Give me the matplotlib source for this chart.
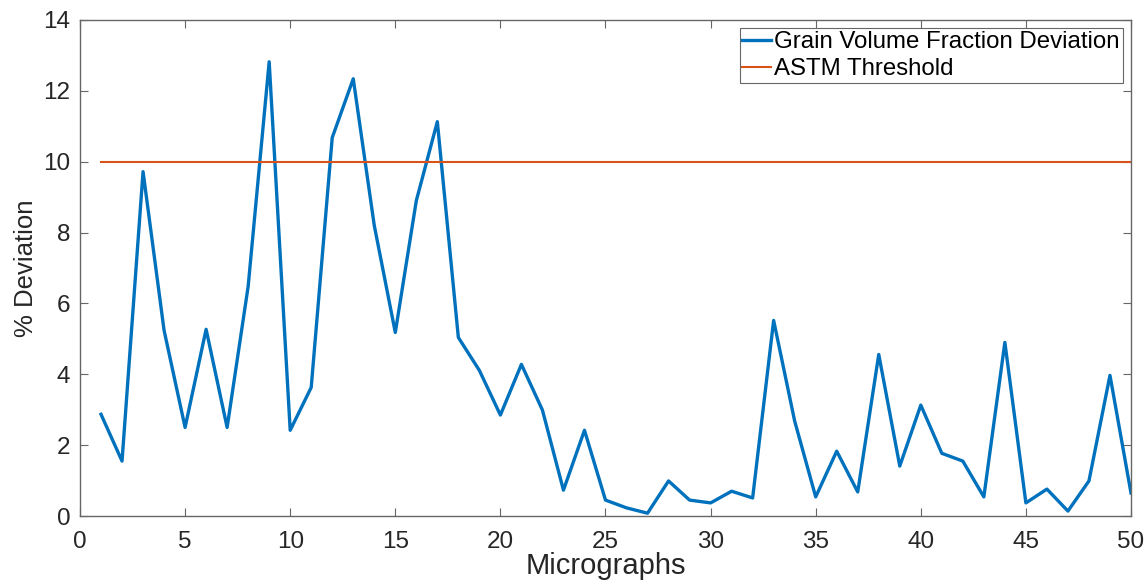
import matplotlib
matplotlib.use('Agg')
import matplotlib.pyplot as plt

plt.rcParams['font.family'] = ['Liberation Sans', 'DejaVu Sans']

# micrograph index and % deviation
micrographs = list(range(1, 51))
deviation = [2.87, 1.55, 9.72, 5.24, 2.50, 5.27, 2.50, 6.48, 12.82, 2.42,
             3.63, 10.68, 12.34, 8.20, 5.18, 8.90, 11.13, 5.04, 4.11, 2.85,
             4.28, 2.99, 0.73, 2.42, 0.45, 0.23, 0.08, 0.99, 0.45, 0.37,
             0.70, 0.51, 5.52, 2.68, 0.54, 1.83, 0.68, 4.56, 1.41, 3.13,
             1.77, 1.55, 0.54, 4.90, 0.37, 0.76, 0.14, 0.99, 3.97, 0.65]
threshold = [10] * len(micrographs)

xticks = [0, 5, 10, 15, 20, 25, 30, 35, 40, 45, 50]
yticks = [0, 2, 4, 6, 8, 10, 12, 14]

fig = plt.figure(figsize=(11.46, 5.84), dpi=100)
ax = fig.add_axes([0.0698, 0.1164, 0.9171, 0.8494])

ax.plot(micrographs, deviation, color='#0072BD', lw=2.4,
        label='Grain Volume Fraction Deviation')
ax.plot(micrographs, threshold, color='#D95319', lw=1.5,
        label='ASTM Threshold')

ax.set_xlim(0, 50)
ax.set_ylim(0, 14)
ax.set_xticks(xticks)
ax.set_yticks(yticks)

for s in ax.spines.values():
    s.set_color('#666666')
    s.set_linewidth(1.0)
ax.tick_params(direction='in', length=6, width=0.8, colors='#666666',
               labelcolor='#262626', labelsize=17.5,
               top=True, right=True, pad=7)
ax.tick_params(axis='x', pad=11)

ax.set_xlabel('Micrographs', fontsize=21, color='#262626', labelpad=-1)
ax.set_ylabel('% Deviation', fontsize=18.5, color='#262626', labelpad=4)

leg = ax.legend(loc='upper right', fontsize=17.3, handlelength=1.2,
                handletextpad=0.12, borderpad=0.12, labelspacing=0.2,
                fancybox=False, framealpha=1, borderaxespad=0.35)
leg.get_frame().set_edgecolor('#666666')
leg.get_frame().set_linewidth(0.8)

fig.savefig('out.png', dpi=100)
